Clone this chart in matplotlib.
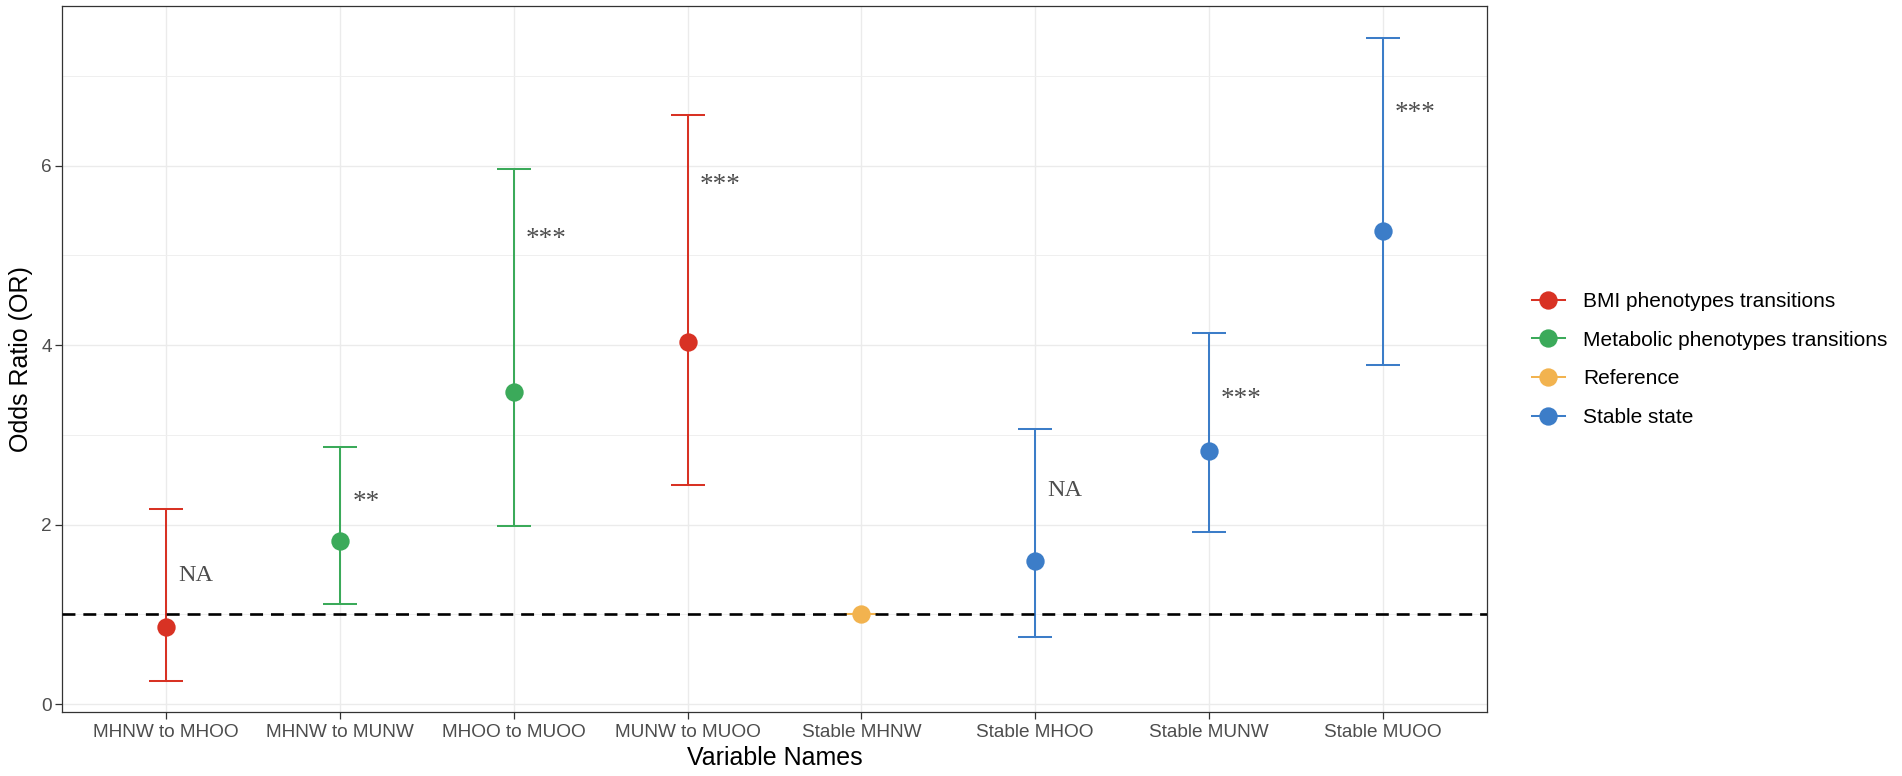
import matplotlib

matplotlib.use("Agg")
import matplotlib.pyplot as plt
from matplotlib.lines import Line2D

# values
variables = [
    "MHNW to MHOO",
    "MHNW to MUNW",
    "MHOO to MUOO",
    "MUNW to MUOO",
    "Stable MHNW",
    "Stable MHOO",
    "Stable MUNW",
    "Stable MUOO",
]
groups = [
    "BMI phenotypes transitions",
    "Metabolic phenotypes transitions",
    "Metabolic phenotypes transitions",
    "BMI phenotypes transitions",
    "Reference",
    "Stable state",
    "Stable state",
    "Stable state",
]
odds_ratio = [0.86, 1.82, 3.48, 4.04, 1.00, 1.59, 2.82, 5.27]
ci_lower = [0.26, 1.11, 1.98, 2.44, 1.00, 0.75, 1.92, 3.78]
ci_upper = [2.17, 2.87, 5.96, 6.57, 1.00, 3.07, 4.14, 7.42]
signif = ["NA", "**", "***", "***", "", "NA", "***", "***"]
signif_y = [1.46, 2.31, 5.25, 5.85, 1.00, 2.41, 3.46, 6.65]

group_order = [
    "BMI phenotypes transitions",
    "Metabolic phenotypes transitions",
    "Reference",
    "Stable state",
]
group_colors = {
    "BMI phenotypes transitions": "#D83224",
    "Metabolic phenotypes transitions": "#3BAA5A",
    "Reference": "#F2B34F",
    "Stable state": "#3C7DC8",
}

SANS = "Liberation Sans"
SERIF = "Liberation Serif"
TEXT_GREY = "#4D4D4D"
DARK = "#333333"

fig = plt.figure(figsize=(19.02, 7.76), dpi=100)
ax = fig.add_axes([62 / 1902, 1 - 712 / 776, 1425 / 1902, 706 / 776])

positions = list(range(len(variables)))

for pos, group, est, lo, hi in zip(positions, groups, odds_ratio, ci_lower, ci_upper):
    color = group_colors[group]
    ax.errorbar(
        pos,
        est,
        yerr=[[est - lo], [hi - est]],
        fmt="none",
        ecolor=color,
        elinewidth=1.45,
        capsize=11.9,
        capthick=1.45,
        zorder=2,
    )
    ax.plot(pos, est, "o", color=color, markersize=13.2, markeredgewidth=0, zorder=4)

ax.axhline(1, color="black", linewidth=1.9, linestyle=(0, (4.9, 3.0)), zorder=3)

# significance labels: baseline shifted so the glyphs sit on the read centre
for pos, label, y in zip(positions, signif, signif_y):
    if not label:
        continue
    if label == "NA":
        size, shift = 17.5, -0.331
    else:
        size, shift = 19.5, -0.47
    ax.annotate(
        label,
        xy=(pos + 0.07, y),
        xytext=(0, shift * size),
        textcoords="offset points",
        ha="left",
        va="baseline",
        fontsize=size,
        family=SERIF,
        color=TEXT_GREY,
        zorder=5,
    )

ax.set_xlim(-0.6, len(variables) - 0.4)
ax.set_ylim(-0.089, 7.78)
ax.set_xticks(positions)
ax.set_xticklabels(variables, family=SANS, fontsize=13.7, color=TEXT_GREY)
ax.set_yticks([0, 2, 4, 6])
ax.set_yticklabels(["0", "2", "4", "6"], family=SANS, fontsize=13.7, color=TEXT_GREY)
ax.set_yticks([1, 3, 5, 7], minor=True)
ax.tick_params(axis="both", which="major", length=5, width=0.9, color=DARK)
ax.tick_params(axis="x", which="major", pad=3.5)
ax.tick_params(axis="y", which="major", pad=2.2)
ax.tick_params(axis="y", which="minor", length=0)

ax.grid(True, which="major", color="#EBEBEB", linewidth=1.0, zorder=0)
ax.grid(True, which="minor", axis="y", color="#EFEFEF", linewidth=0.7, zorder=0)
ax.set_axisbelow(True)
for spine in ax.spines.values():
    spine.set_color(DARK)
    spine.set_linewidth(0.9)

ax.set_xlabel("Variable Names", family=SANS, fontsize=18, color="black", labelpad=4)
ax.set_ylabel("Odds Ratio (OR)", family=SANS, fontsize=18, color="black", labelpad=6)

handles = [
    Line2D(
        [0], [0],
        color=group_colors[g],
        linewidth=1.45,
        marker="o",
        markersize=13.2,
        markeredgewidth=0,
    )
    for g in group_order
]
fig.legend(
    handles,
    group_order,
    loc="center left",
    bbox_to_anchor=(1532 / 1902, 1 - 359.5 / 776),
    frameon=False,
    borderpad=0,
    borderaxespad=0,
    handlelength=1.58,
    handletextpad=0.86,
    labelspacing=0.95,
    prop={"family": SANS, "size": 15},
)

fig.savefig("out.png", dpi=100, facecolor="white")
